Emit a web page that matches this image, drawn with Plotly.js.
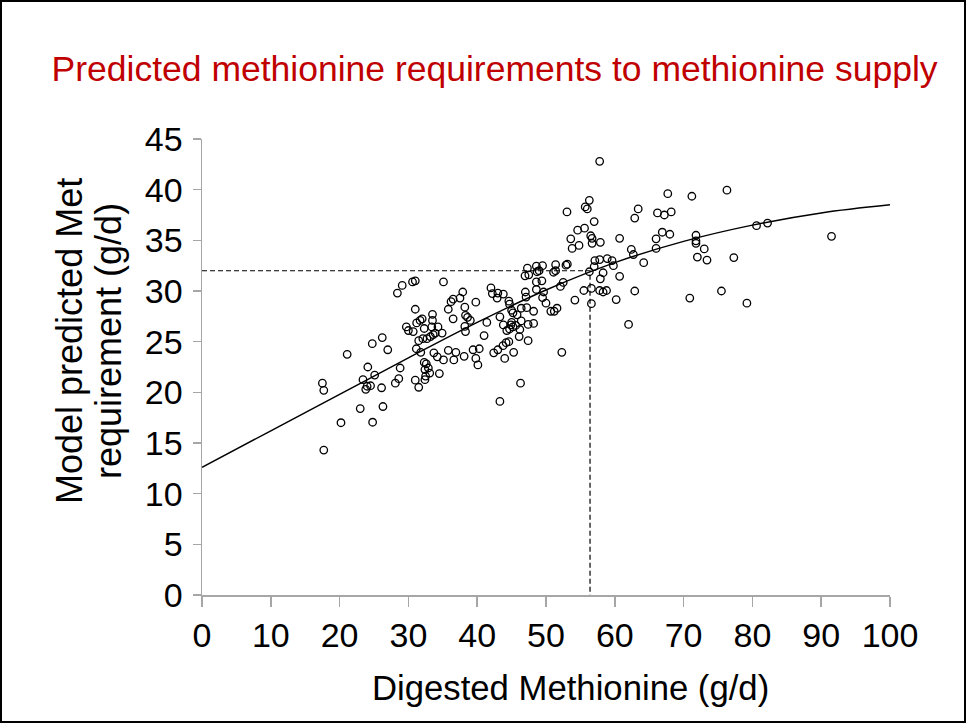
<!DOCTYPE html>
<html>
<head>
<meta charset="utf-8">
<script src="https://cdn.plot.ly/plotly-3.0.1.min.js"></script>
<style>
  html, body { margin: 0; padding: 0; background: #ffffff; }
  #wrap { position: relative; width: 966px; height: 723px; }
  #chart { position: absolute; left: 0; top: 0; width: 966px; height: 723px; }
  #frame { position: absolute; left: 0; top: 0; width: 966px; height: 723px; box-sizing: border-box; border: 2px solid #000; pointer-events: none; }
</style>
</head>
<body>
<div id="wrap"><div id="chart"></div><div id="frame"></div></div>
<script>
// Observed data: digested methionine (g/d) vs model predicted Met requirement (g/d)
const digestedMet = [
  17.5,17.7,17.7,20.2,21.1,23.0,24.8,26.3,26.2,24.75,27.0,24.1,25.1,23.4,24.0,24.5,23.8,26.1,28.1,28.6,28.8,29.7,30.0,30.7,28.4,29.1,30.6,31.0,
  35.1,37.9,36.5,36.2,35.8,37.5,38.2,38.3,38.6,39.0,38.2,38.3,
  31.0,33.5,33.5,32.0,31.7,31.2,36.5,
  32.3,33.4,34.3,33.6,33.9,33.2,32.7,32.1,31.5,34.9,
  31.15,31.8,33.7,34.2,35.1,35.8,36.9,36.6,38.1,
  32.3,32.6,32.4,32.9,33.1,32.5,32.4,34.5,31.0,31.5,
  39.8,41.4,43.3,42.0,42.2,43.0,42.9,43.8,44.6,44.7,45.0,45.2,46.4,47.2,48.2,45.8,46.4,
  43.8,44.3,44.7,44.9,45.2,45.0,45.6,46.2,46.1,47.4,48.2,47.4,41.0,39.4,40.3,39.8,40.1,
  42.4,43.0,43.75,44.2,44.6,44.0,45.3,52.3,46.3,43.3,
  47.3,48.6,49.5,48.7,47.5,46.95,49.0,51.4,51.1,51.4,52.9,53.1,48.6,49.4,48.6,49.65,49.5,50.0,47.0,47.1,
  52.1,52.5,54.2,50.7,51.2,51.6,55.5,56.6,56.6,56.3,57.0,57.1,57.8,58.9,59.6,59.8,58.3,57.9,57.8,58.3,58.8,60.2,
  57.8,56.3,55.7,56.0,53.05,57.0,63.4,62.9,54.6,55.6,56.5,56.7,53.6,54.8,56.7,57.9,60.7,53.8,62.4,62.7,64.2,66.0,
  60.7,62.9,70.9,66.2,67.2,68.2,67.7,71.2,66.9,66.0,68.0,71.8,71.8,71.8,72.0,73.0,73.4,77.3,76.3,80.6,82.2,75.5,79.2,91.5,62.0
];
const predictedReq = [
  20.9,20.2,14.3,17.0,23.75,18.4,17.05,18.6,25.4,24.8,24.2,22.5,21.7,21.25,20.6,20.65,20.3,20.45,20.9,21.35,22.4,26.45,26.1,26.0,29.8,30.55,30.9,31.0,
  30.9,29.9,29.2,28.95,28.2,29.3,28.4,27.6,27.4,27.1,26.5,26.0,
  28.2,27.7,27.1,27.25,27.1,26.85,27.25,
  26.3,26.45,26.45,25.7,25.85,25.5,25.3,25.3,25.1,25.85,
  24.3,23.95,23.9,23.5,23.2,24.15,23.95,23.2,23.55,
  22.95,22.8,22.25,22.4,21.9,21.6,21.25,21.85,21.2,20.5,
  28.9,26.9,27.45,30.3,29.75,29.8,29.3,29.7,29.0,28.7,28.1,27.85,28.3,28.35,28.0,27.65,27.05,
  26.65,26.1,26.25,26.65,26.45,26.9,26.6,26.2,25.5,26.7,26.8,25.1,25.6,24.2,24.3,23.35,22.7,
  23.9,24.2,24.6,24.9,25.0,23.35,23.95,23.95,20.9,19.1,
  32.25,32.45,32.5,31.9,31.6,31.5,32.0,32.6,31.85,32.0,32.55,32.65,30.9,31.0,30.15,29.9,29.35,28.8,29.9,29.4,
  30.45,30.85,29.1,28.0,28.0,28.3,30.05,30.25,28.75,31.9,32.4,33.0,33.1,33.2,33.0,32.5,31.8,31.2,30.05,29.9,30.05,29.15,
  42.8,38.95,38.3,38.1,37.8,36.85,38.1,37.2,36.0,36.2,35.45,35.2,35.15,34.5,34.7,34.8,35.2,34.2,34.1,33.6,32.8,34.2,
  31.45,30.0,29.3,37.7,37.5,37.8,39.6,39.35,35.8,35.15,35.6,35.5,34.95,34.7,33.35,34.15,33.05,33.3,39.95,36.45,36.7,30.0,28.8,35.4,26.7
];
// Fitted model curve
const curveX = [0, 10, 20, 30, 40, 50, 60, 70, 80, 90, 100];
const curveY = [12.6, 16.2, 19.8, 23.4, 26.9, 30.1, 32.8, 34.9, 36.5, 37.7, 38.5];
// Reference lines: supply at which requirement = 32 g/d
const refX = [0, 56.4, 56.4];
const refY = [32, 32, 0];
const xTicks = [0, 10, 20, 30, 40, 50, 60, 70, 80, 90, 100];
const yTicks = [0, 5, 10, 15, 20, 25, 30, 35, 40, 45];
const xTitle = 'Digested Methionine (g/d)';
const yTitleLines = ['Model predicted Met', 'requirement (g/d)'];

const FONT = '"Liberation Sans", Arial, sans-serif';
const axisGray = '#A6A6A6';

const traces = [
  {
    x: refX, y: refY, type: 'scatter', mode: 'lines',
    line: { color: '#000', width: 1.2, dash: '5px,3px' },
    hoverinfo: 'skip', showlegend: false
  },
  {
    x: curveX, y: curveY, type: 'scatter', mode: 'lines',
    line: { color: '#000', width: 1.5, shape: 'spline', smoothing: 1 },
    showlegend: false
  },
  {
    x: digestedMet, y: predictedReq, type: 'scatter', mode: 'markers',
    marker: { symbol: 'circle-open', size: 7.5, color: '#000', line: { color: '#000', width: 1.3 } },
    showlegend: false
  }
];

const layout = {
  width: 966, height: 723,
  margin: { l: 202, r: 76, t: 139, b: 128 },
  paper_bgcolor: '#fff', plot_bgcolor: '#fff',
  font: { family: FONT, color: '#000' },
  showlegend: false,
  title: {
    text: 'Predicted methionine requirements to methionine supply',
    font: { family: FONT, size: 35.5, color: '#C00000' },
    x: 0.512, xref: 'container', xanchor: 'center',
    y: 1 - 69 / 723, yref: 'container', yanchor: 'middle'
  },
  xaxis: {
    range: [0, 100], tickvals: xTicks, ticktext: xTicks.map(String),
    showgrid: false, zeroline: false,
    showline: true, linecolor: axisGray, linewidth: 1.5,
    ticks: 'outside', ticklen: 10, tickwidth: 1.5, tickcolor: axisGray,
    tickfont: { family: FONT, size: 34, color: '#000' }
  },
  yaxis: {
    range: [0, 45], tickvals: yTicks, ticktext: yTicks.map(String),
    showgrid: false, zeroline: false,
    showline: true, linecolor: axisGray, linewidth: 1.5,
    ticks: 'outside', ticklen: 8, tickwidth: 1.5, tickcolor: axisGray,
    ticklabelstandoff: 3,
    tickfont: { family: FONT, size: 34, color: '#000' }
  },
  annotations: [
    {
      text: xTitle, xref: 'paper', yref: 'paper', x: 0, y: 0,
      xshift: 570 - 202, yshift: -(688 - 595), xanchor: 'center', yanchor: 'middle',
      showarrow: false, font: { family: FONT, size: 34.7, color: '#000' }
    },
    {
      text: yTitleLines[0], xref: 'paper', yref: 'paper', x: 0, y: 0,
      xshift: 69 - 202, yshift: 595 - 341, xanchor: 'center', yanchor: 'middle', textangle: -90,
      showarrow: false, font: { family: FONT, size: 36, color: '#000' }
    },
    {
      text: yTitleLines[1], xref: 'paper', yref: 'paper', x: 0, y: 0,
      xshift: 108 - 202, yshift: 595 - 341, xanchor: 'center', yanchor: 'middle', textangle: -90,
      showarrow: false, font: { family: FONT, size: 36, color: '#000' }
    }
  ]
};

Plotly.newPlot('chart', traces, layout, { staticPlot: true, displayModeBar: false });
</script>
</body>
</html>
